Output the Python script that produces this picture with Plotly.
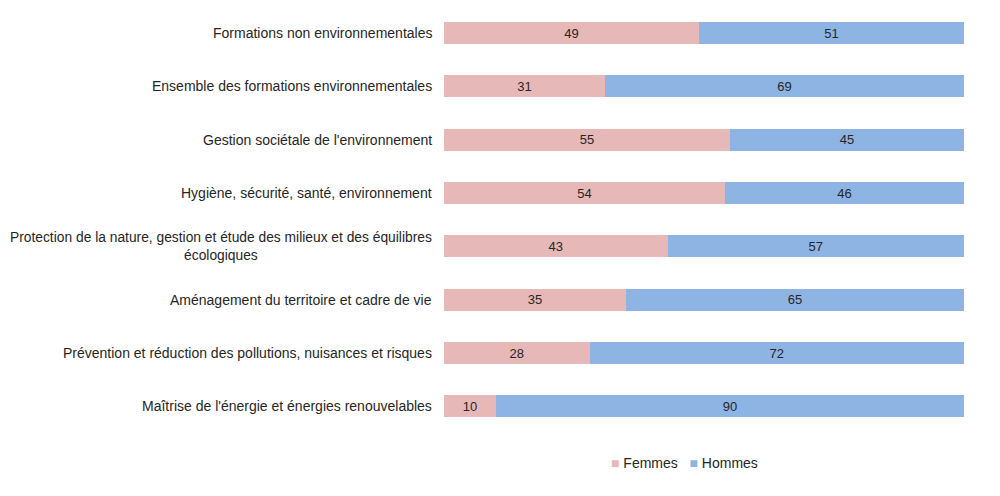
import plotly.graph_objects as go

categories = [
    "Formations non environnementales",
    "Ensemble des formations environnementales",
    "Gestion sociétale de l'environnement",
    "Hygiène, sécurité, santé, environnement",
    "Protection de la nature, gestion et étude des milieux et des équilibres<br>écologiques",
    "Aménagement du territoire et cadre de vie",
    "Prévention et réduction des pollutions, nuisances et risques",
    "Maîtrise de l'énergie et énergies renouvelables",
]
femmes = [49, 31, 55, 54, 43, 35, 28, 10]
hommes = [51, 69, 45, 46, 57, 65, 72, 90]
series_names = ["Femmes", "Hommes"]
colors = ["#E6B9B8", "#8EB4E3"]

FAM = "Liberation Sans, Arial, sans-serif"
label_font = dict(family=FAM, size=14, color="#262626")
long_font = dict(family=FAM, size=13.8, color="#262626")
bar_font = dict(family=FAM, size=13, color="#262626")

fig = go.Figure()
for name, vals, col in zip(series_names, [femmes, hommes], colors):
    fig.add_trace(go.Bar(
        y=categories, x=vals, name=name, orientation="h",
        marker=dict(color=col, line=dict(width=0)),
        text=vals, textposition="inside", insidetextanchor="middle",
        textfont=bar_font, hoverinfo="x+name",
    ))

annotations = []
for c in categories:
    annotations.append(dict(
        x=0, xref="paper", y=c, yref="y", text=c, showarrow=False,
        xanchor="right", xshift=-10, align="center",
        font=long_font if "<br>" in c else label_font,
    ))

legend_text = "&nbsp;&nbsp;&nbsp;".join(
    f"<span style='color:{col}'>■</span>&nbsp;{name}" for name, col in zip(series_names, colors)
)
annotations.append(dict(
    x=0.317, xref="paper", y=-0.0706, yref="paper", text=legend_text,
    showarrow=False, xanchor="left", yanchor="middle", font=label_font,
))

fig.update_layout(
    barmode="stack",
    bargap=0.59,
    width=1000, height=496,
    margin=dict(l=436, r=44, t=0, b=71, autoexpand=False),
    plot_bgcolor="white", paper_bgcolor="white",
    font=label_font,
    uniformtext=dict(mode="show", minsize=13),
    xaxis=dict(range=[0, 100], visible=False),
    yaxis=dict(range=[7.5, -0.469], showticklabels=False, showgrid=False,
               zeroline=False, showline=False, ticks=""),
    showlegend=False,
    annotations=annotations,
)

fig.write_html("out.html")
